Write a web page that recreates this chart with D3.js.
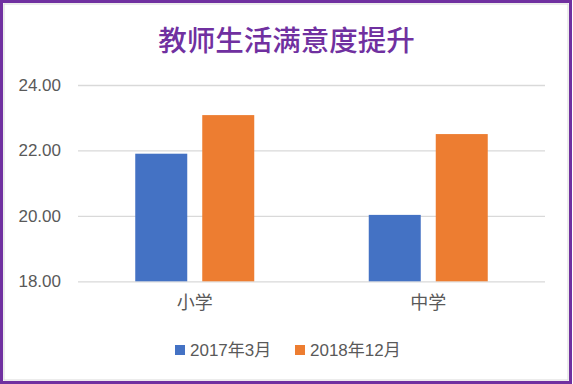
<!DOCTYPE html>
<html>
<head>
<meta charset="utf-8">
<script src="https://cdn.jsdelivr.net/npm/d3@7"></script>
<style>
  body { margin: 0; background: #fff; }
  text { font-family: "Liberation Sans", "Noto Sans CJK SC", sans-serif; }
</style>
</head>
<body>
<div id="chart"></div>
<script>
const categories = ['小学', '中学'];
const seriesNames = ['2017年3月', '2018年12月'];
const values2017 = [21.9, 20.03];
const values2018 = [23.08, 22.5];
const yTicks = [18, 20, 22, 24];
const colors = ['#4472C4', '#ED7D31'];

const W = 573, H = 384;
const margin = { top: 85, right: 28, bottom: 102.7, left: 78 };
const width = W - margin.left - margin.right;
const height = H - margin.top - margin.bottom;

const svg = d3.select('#chart').append('svg')
    .attr('width', W)
    .attr('height', H);

// outline
svg.append('rect')
    .attr('x', 4).attr('y', 4)
    .attr('width', W - 9).attr('height', H - 8)
    .attr('fill', 'none')
    .attr('stroke', '#d9d9d9')
    .attr('stroke-width', 1);
svg.append('rect')
    .attr('x', 1.5).attr('y', 1.5)
    .attr('width', W - 4).attr('height', H - 3)
    .attr('fill', 'none')
    .attr('stroke', '#7030A0')
    .attr('stroke-width', 3);

// title
svg.append('text')
    .attr('x', W / 2)
    .attr('y', 51)
    .attr('text-anchor', 'middle')
    .attr('fill', '#7030A0')
    .style('font-size', '28.5px')
    .style('font-weight', 500)
    .text('教师生活满意度提升');

const g = svg.append('g')
    .attr('transform', 'translate(' + margin.left + ',' + margin.top + ')');

const x = d3.scaleBand()
    .domain(categories)
    .range([0, width]);

const y = d3.scaleLinear()
    .domain([18, 24])
    .range([height, 0]);

// grid
g.append('g')
    .attr('class', 'grid')
    .call(d3.axisLeft(y).tickValues(yTicks).tickSize(-width).tickFormat(''))
    .call(s => s.select('.domain').remove())
    .call(s => s.selectAll('line').attr('stroke', '#d9d9d9').attr('stroke-width', 1.3));

// y labels
g.append('g')
    .call(d3.axisLeft(y).tickValues(yTicks).tickSize(0).tickPadding(17).tickFormat(d3.format('.2f')))
    .call(s => s.select('.domain').remove())
    .call(s => s.selectAll('text').attr('fill', '#595959').style('font-size', '17px'));

// x labels
g.append('g')
    .attr('transform', 'translate(0,' + height + ')')
    .call(d3.axisBottom(x).tickSize(0).tickPadding(15))
    .call(s => s.select('.domain').remove())
    .call(s => s.selectAll('text').attr('fill', '#595959').style('font-size', '18px'));

// bars
const barW = 52, gap = 15;
const inner = d3.scaleOrdinal()
    .domain([0, 1])
    .range([-(barW + gap / 2), gap / 2]);

[values2017, values2018].forEach(function (vals, si) {
    g.selectAll('.bar' + si)
        .data(vals)
        .enter().append('rect')
        .attr('class', 'bar' + si)
        .attr('x', (d, i) => x(categories[i]) + x.bandwidth() / 2 + inner(si))
        .attr('y', d => y(d))
        .attr('width', barW)
        .attr('height', d => y(18) - y(d))
        .attr('fill', colors[si]);
});

// legend
const legendX = [175, 295];
const legend = svg.append('g');
seriesNames.forEach(function (name, i) {
    legend.append('rect')
        .attr('x', legendX[i]).attr('y', 345)
        .attr('width', 10).attr('height', 10)
        .attr('fill', colors[i]);
    legend.append('text')
        .attr('x', legendX[i] + 15).attr('y', 356)
        .attr('fill', '#595959')
        .style('font-size', '17px')
        .text(name);
});
</script>
</body>
</html>
